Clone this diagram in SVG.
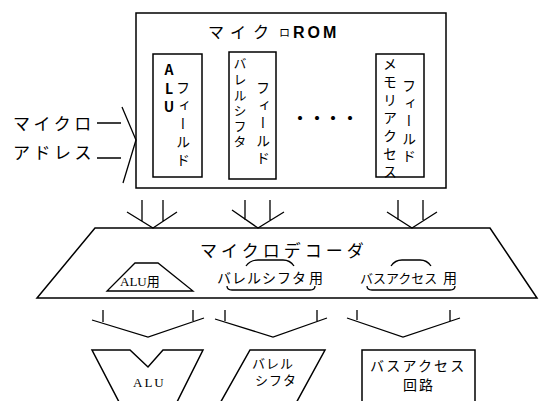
<svg xmlns="http://www.w3.org/2000/svg" width="539" height="401" viewBox="0 0 539 401">
<style>
.ln{fill:none;stroke:#000;stroke-width:1.5;stroke-linejoin:miter}
.th{fill:none;stroke:#000;stroke-width:1.3}
.jp{font-family:"Noto Sans CJK JP","Noto Sans",sans-serif;fill:#000}
.se{font-family:"Liberation Serif","Noto Sans CJK JP",serif;fill:#000}
.vt{font-family:"Noto Sans CJK JP","Noto Sans",sans-serif;fill:#000;writing-mode:vertical-rl;text-orientation:upright}
</style>
<rect width="539" height="401" fill="#fff"/>

<g id="rom">
<rect class="ln" x="136" y="13" width="310" height="175"/>
<text class="jp" y="38" font-size="16"><tspan x="208">マ</tspan><tspan x="230">イ</tspan><tspan x="253">ク</tspan><tspan x="279" font-size="11" dy="-1">ロ</tspan><tspan x="293" dy="1" font-family="Liberation Sans,sans-serif" font-weight="bold" letter-spacing="3">ROM</tspan></text>
</g>

<g id="alu-field">
<rect class="ln" x="153" y="54" width="49" height="123"/>
<text class="vt" x="169" y="63" font-size="14" font-weight="bold" letter-spacing="4.5">ALU</text>
<text class="vt" x="183" y="81" font-size="14" letter-spacing="4">フィールド</text>
</g>

<g id="barrel-field">
<rect class="ln" x="229" y="52" width="47" height="127"/>
<text class="vt" x="240" y="57" font-size="13" letter-spacing="2.6">バレルシフタ</text>
<text class="vt" x="263" y="81" font-size="14" letter-spacing="3.5">フィールド</text>
</g>

<text class="jp" y="124" font-size="16" font-weight="bold" text-anchor="middle"><tspan x="300">・</tspan><tspan x="317">・</tspan><tspan x="333">・</tspan><tspan x="350">・</tspan></text>

<g id="mem-field">
<rect class="ln" x="376" y="54" width="48" height="123"/>
<text class="vt" x="390" y="57" font-size="14" letter-spacing="4">メモリアクセス</text>
<text class="vt" x="409" y="79" font-size="14" letter-spacing="3.5">フィールド</text>
</g>

<g id="micro-address">
<text class="jp" x="13" y="129.5" font-size="17" letter-spacing="3.5">マイクロ</text>
<text class="jp" x="13" y="158.5" font-size="17" letter-spacing="3.5">アドレス</text>
</g>

<g id="decoder">
<polygon class="ln" points="95,228 490,228 537,298 37,298"/>
<text class="jp" x="200" y="256.5" font-size="17" letter-spacing="4">マイクロデコーダ</text>
<polygon class="th" points="135,263 158,263 193,291 107,291"/>
<text y="286" font-size="13"><tspan class="se" x="120">ALU</tspan><tspan class="jp" font-size="13">用</tspan></text>
<text class="jp" x="217" y="283" font-size="14" letter-spacing="1"><tspan>バレルシフタ</tspan><tspan x="309">用</tspan></text>
<path class="th" d="M246,266 Q250,260 258,260 H283 Q290,260 294,266"/>
<path class="th" d="M227,286 Q227,290 232,290 H310 Q315,290 315,286"/>
<text class="jp" x="360" y="283" font-size="13" letter-spacing="0"><tspan>バスアクセス</tspan><tspan x="443" font-size="14">用</tspan></text>
<path class="th" d="M391,266 Q395,260 402,260 H420 Q427,260 431,266"/>
<path class="th" d="M367,286 Q367,290 372,290 H450 Q455,290 455,286"/>
</g>

<g id="alu">
<path class="ln" d="M120.6,405 L92,350 L130,350 L148,367 L163,350 L203,350 L175.5,405"/>
<text class="se" x="133" y="387" font-size="13" letter-spacing="2">ALU</text>
</g>

<g id="barrel-shifter">
<path class="ln" d="M219,405 L250,350 L325,350 L295,405"/>
<text class="jp" x="252" y="368" font-size="13" letter-spacing="1">バレル</text>
<text class="jp" x="255" y="385" font-size="13" letter-spacing="1">シフタ</text>
</g>

<g id="bus-access">
<path class="ln" d="M362,405 V350 H475 V405"/>
<text class="jp" x="370" y="371" font-size="14" letter-spacing="2.2">バスアクセス</text>
<text class="jp" x="403" y="390" font-size="14" letter-spacing="2">回路</text>
</g>

<g id="connectors">
<path class="th" d="M97,123 H121 M97,158 H121 M122,107 L136,140 L123,183"/>
<path class="th" d="M142,200 V221 M163,200 V221 M127,212 L153,228 L177,212"/>
<path class="th" d="M245,200 V220 M270,200 V220 M232,210 L258,228 L284,212"/>
<path class="th" d="M398,200 V220 M423,200 V220 M387,212 L412,228 L437,212"/>
<path class="th" d="M103,310 V322 M193,310 V321 M92,320 L148,337 L204,318"/>
<path class="th" d="M225,310 V321 M317,310 V321 M215,319 L273,337 L327,318"/>
<path class="th" d="M357,310 V320 M450,310 V321 M347,318 L403,337 L460,318"/>
</g>
</svg>
